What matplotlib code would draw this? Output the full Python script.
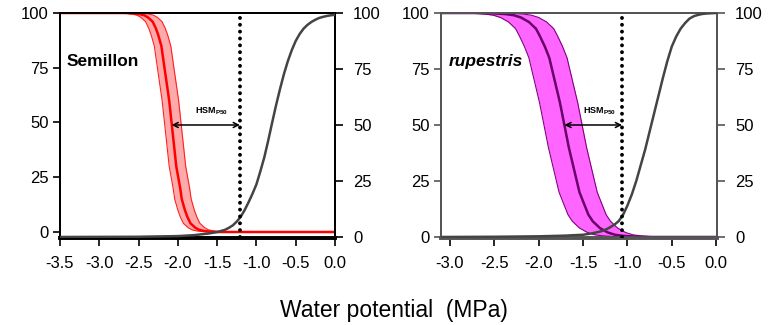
import matplotlib.pyplot as plt

plt.rcParams['font.family'] = ['Liberation Sans', 'DejaVu Sans']
plt.rcParams['mathtext.fontset'] = 'custom'
plt.rcParams['mathtext.rm'] = 'Liberation Sans'
plt.rcParams['mathtext.bf'] = 'Liberation Sans:bold'

plc_levels = [100, 100, 99.8, 99.5, 99, 98, 96, 93, 90, 85, 80, 70, 60, 50,
              40, 30, 20, 15, 10, 7, 4, 2, 1, 0.5, 0.2, 0, 0]

# Semillon: water potential (MPa) for each PLC level, mean and band
sem_psi_mean = [-3.50, -2.68, -2.56, -2.49, -2.43, -2.38, -2.32, -2.28, -2.25, -2.21, -2.19, -2.15, -2.11, -2.08,
                -2.05, -2.02, -1.97, -1.95, -1.91, -1.88, -1.84, -1.78, -1.73, -1.67, -1.60, -1.48, 0.00]
sem_psi_low = [-3.50, -2.77, -2.65, -2.58, -2.52, -2.47, -2.41, -2.37, -2.34, -2.30, -2.28, -2.24, -2.20, -2.17,
               -2.14, -2.11, -2.06, -2.04, -2.00, -1.97, -1.93, -1.87, -1.82, -1.76, -1.69, -1.57, 0.00]
sem_psi_high = [-3.50, -2.56, -2.44, -2.37, -2.31, -2.26, -2.20, -2.16, -2.13, -2.09, -2.07, -2.03, -1.99, -1.96,
                -1.93, -1.90, -1.85, -1.83, -1.79, -1.76, -1.72, -1.66, -1.61, -1.55, -1.48, -1.36, 0.00]

# rupestris
rup_psi_mean = [-3.10, -2.66, -2.49, -2.37, -2.28, -2.20, -2.11, -2.03, -1.99, -1.93, -1.88, -1.82, -1.76, -1.71,
                -1.66, -1.60, -1.54, -1.49, -1.44, -1.39, -1.31, -1.22, -1.14, -1.05, -0.93, -0.76, 0.01]
rup_psi_low = [-3.10, -2.89, -2.72, -2.60, -2.51, -2.43, -2.34, -2.26, -2.22, -2.16, -2.11, -2.05, -1.99, -1.94,
               -1.89, -1.83, -1.77, -1.72, -1.67, -1.62, -1.54, -1.45, -1.37, -1.28, -1.16, -0.99, 0.01]
rup_psi_high = [-3.10, -2.46, -2.29, -2.17, -2.08, -2.00, -1.91, -1.83, -1.79, -1.73, -1.68, -1.62, -1.56, -1.51,
                -1.46, -1.40, -1.34, -1.29, -1.24, -1.19, -1.11, -1.02, -0.94, -0.85, -0.73, -0.56, 0.01]

# grey curves (right axis)
sem_grey_psi = [-3.5, -3.0, -2.5, -2.0, -1.8, -1.6, -1.5, -1.4, -1.35, -1.3, -1.25, -1.2, -1.15,
                -1.1, -1.05, -1.0, -0.95, -0.9, -0.85, -0.8, -0.75, -0.7, -0.65, -0.6, -0.55,
                -0.5, -0.45, -0.4, -0.35, -0.3, -0.25, -0.2, -0.15, -0.1, -0.05, 0.0]
sem_grey_val = [0.0, 0.05, 0.1, 0.4, 0.8, 1.6, 2.2, 3.2, 4.1, 5.2, 6.9, 9.0, 12.0,
                15.5, 19.3, 23.5, 29.3, 35.5, 43.0, 51.0, 58.8, 66.0, 72.7, 78.5, 83.4,
                87.5, 90.6, 93.0, 94.7, 96.0, 97.0, 97.8, 98.3, 98.7, 99.0, 99.2]
rup_grey_psi = [-3.1, -2.5, -2.0, -1.7, -1.5, -1.4, -1.3, -1.25, -1.2, -1.15, -1.1, -1.05,
                -1.0, -0.95, -0.9, -0.85, -0.8, -0.75, -0.7, -0.65, -0.6, -0.55, -0.5,
                -0.45, -0.4, -0.35, -0.3, -0.25, -0.2, -0.15, -0.1, -0.05, 0.0]
rup_grey_val = [0.0, 0.1, 0.3, 0.6, 1.0, 1.6, 2.5, 3.2, 4.2, 5.4, 7.0, 9.8,
                14.0, 19.0, 25.0, 32.0, 39.0, 47.0, 55.0, 63.0, 71.0, 78.5, 85.0,
                89.5, 93.0, 95.5, 97.5, 98.6, 99.2, 99.6, 99.8, 99.9, 100.0]

# P50 and dotted threshold (MPa)
sem_p50, sem_thr = -2.08, -1.21
rup_p50, rup_thr = -1.71, -1.06

yticks = [0, 25, 50, 75, 100]


def draw_panel(rect, xlim, xticks, ylim_left, mean, low, high, grey_x, grey_y,
               p50, thr, fill_c, edge_c, mean_c, spine_c, name, italic, hsm_x):
    ax = fig.add_axes(rect)
    ax2 = ax.twinx()
    ax.fill_betweenx(plc_levels, low, high, color=fill_c, lw=0, zorder=1)
    ax.plot(low, plc_levels, color=edge_c, lw=0.8, zorder=2)
    ax.plot(high, plc_levels, color=edge_c, lw=0.8, zorder=2)
    ax.plot(mean, plc_levels, color=mean_c, lw=1.8, zorder=3)
    ax.set_xlim(xlim)
    ax.set_ylim(ylim_left)
    ax2.set_ylim(-0.45, 100)
    ax2.plot(grey_x, grey_y, color='#444444', lw=1.8, zorder=4)
    ax2.plot([thr, thr], [0, 100], color='black', lw=2.8,
             linestyle=(0, (0.01, 1.75)), dash_capstyle='round', zorder=5)
    ax2.annotate('', xy=(thr, 50), xytext=(p50, 50),
                 arrowprops=dict(arrowstyle='<->', lw=1.1, color='black',
                                 mutation_scale=9, shrinkA=0, shrinkB=0))
    ax2.text(hsm_x, 56, r'$\mathbf{HSM}_{\mathbf{P50}}$', fontsize=6.5,
             ha='center', va='center')
    ax2.text(xlim[0] + 0.09, 78.5, name, fontsize=12.5, fontweight='bold',
             fontstyle='italic' if italic else 'normal', va='center')

    ax.set_xticks(xticks)
    ax.set_xticklabels([f'{v:.1f}'.replace('-0.0', '0.0') for v in xticks])
    ax.set_yticks(yticks)
    ax.set_yticklabels([str(v) for v in yticks])
    ax2.set_yticks(yticks)
    ax2.set_yticklabels([str(v) for v in yticks])
    ax.tick_params(axis='x', length=6, width=1.2, pad=7, labelsize=12, colors='black')
    ax.tick_params(axis='y', length=5, width=1.2, pad=3, labelsize=12,
                   color=spine_c, labelcolor='black')
    ax2.tick_params(axis='y', length=6, width=1.2, pad=7, labelsize=12,
                    color=spine_c, labelcolor='black')
    for a in (ax, ax2):
        for s in a.spines.values():
            s.set_color(spine_c)
            s.set_linewidth(1.4)
    ax.spines['bottom'].set_linewidth(2.6)
    ax2.spines['bottom'].set_linewidth(2.6)
    return ax


fig = plt.figure(figsize=(7.69, 3.25), dpi=100)

draw_panel([0.078, 0.2677, 0.3576, 0.6923], (-3.5, 0.0),
           [-3.5, -3.0, -2.5, -2.0, -1.5, -1.0, -0.5, 0.0], (-2.74, 100),
           sem_psi_mean, sem_psi_low, sem_psi_high, sem_grey_psi, sem_grey_val,
           sem_p50, sem_thr, '#ffaaaa', '#ff2020', '#ff0000', 'black',
           'Semillon', False, -1.57)

draw_panel([0.5735, 0.2677, 0.3589, 0.6923], (-3.1, 0.01),
           [-3.0, -2.5, -2.0, -1.5, -1.0, -0.5, 0.0], (-0.45, 100),
           rup_psi_mean, rup_psi_low, rup_psi_high, rup_grey_psi, rup_grey_val,
           rup_p50, rup_thr, '#ff66ff', '#800080', '#6a006a', '#555555',
           'rupestris', True, -1.31)

fig.text(0.512, 0.045, 'Water potential  (MPa)', fontsize=16.5, ha='center', va='center')

fig.savefig('out.png', dpi=100)
